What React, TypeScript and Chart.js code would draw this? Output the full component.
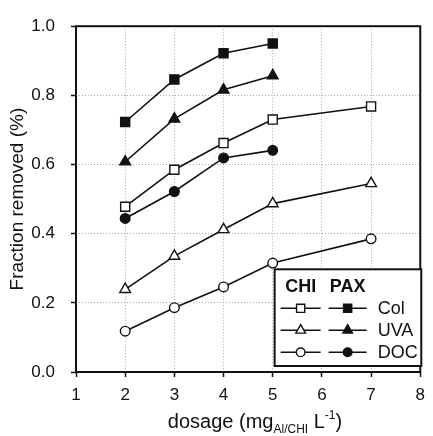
import React, { useEffect, useRef } from 'react';
import { Chart, registerables } from 'chart.js';

Chart.register(...registerables);

// ---- data ----
const dosageChi = [2, 3, 4, 5, 7];
const dosagePax = [2, 3, 4, 5];
const colChi = [0.478, 0.585, 0.662, 0.73, 0.768];
const colPax = [0.723, 0.846, 0.922, 0.95];
const uvaChi = [0.239, 0.335, 0.412, 0.487, 0.545];
const uvaPax = [0.608, 0.732, 0.816, 0.857];
const docChi = [0.118, 0.186, 0.246, 0.315, 0.385];
const docPax = [0.444, 0.522, 0.619, 0.641];
const xTicks = [1, 2, 3, 4, 5, 6, 7, 8];
const yTicks = [0, 0.2, 0.4, 0.6, 0.8, 1.0];
const legendHeaders = ['CHI', 'PAX'];
const legendRows = ['Col', 'UVA', 'DOC'];
const yTitle = 'Fraction removed (%)';

const FONT = "'Liberation Sans', Arial, sans-serif";
const INK = '#111';

type Marker = 'rect' | 'triangle' | 'circle';

function drawMarker(ctx: CanvasRenderingContext2D, style: Marker, x: number, y: number, filled: boolean, r: number) {
  ctx.save();
  ctx.beginPath();
  if (style === 'rect') {
    const s = Math.SQRT1_2 * r;
    ctx.rect(x - s, y - s, 2 * s, 2 * s);
  } else if (style === 'triangle') {
    let rad = 0;
    ctx.moveTo(x + Math.sin(rad) * r, y - Math.cos(rad) * r);
    rad += (2 * Math.PI) / 3;
    ctx.lineTo(x + Math.sin(rad) * r, y - Math.cos(rad) * r);
    rad += (2 * Math.PI) / 3;
    ctx.lineTo(x + Math.sin(rad) * r, y - Math.cos(rad) * r);
    ctx.closePath();
  } else {
    ctx.arc(x, y, r, 0, Math.PI * 2);
  }
  ctx.fillStyle = filled ? INK : '#fff';
  ctx.fill();
  ctx.lineWidth = 1.4;
  ctx.strokeStyle = INK;
  ctx.stroke();
  ctx.restore();
}

const radii: Record<Marker, number> = { rect: 6.4, triangle: 6.2, circle: 4.8 };

function mk(label: string, xs: number[], ys: number[], style: Marker, filled: boolean) {
  return {
    label,
    data: xs.map((x, i) => ({ x, y: ys[i] })),
    borderColor: INK,
    borderWidth: 1.6,
    pointStyle: style,
    pointRadius: radii[style],
    pointBorderWidth: 1.4,
    pointBorderColor: INK,
    pointBackgroundColor: filled ? INK : '#fff',
    showLine: true,
    fill: false,
    tension: 0,
  };
}

const framePlugin = {
  id: 'frame',
  beforeDatasetsDraw(chart: any) {
    const { ctx, chartArea: a } = chart;
    ctx.save();
    ctx.strokeStyle = INK;
    ctx.lineWidth = 2;
    ctx.strokeRect(a.left, a.top, a.right - a.left, a.bottom - a.top);
    ctx.restore();
  },
};

const legendPlugin = {
  id: 'customLegend',
  afterDatasetsDraw(chart: any) {
    const ctx: CanvasRenderingContext2D = chart.ctx;
    const a = chart.chartArea;
    const bx = a.left + (a.right - a.left) * 0.577;
    const by = a.top + (a.bottom - a.top) * 0.703;
    const bw = a.right + 1 - bx;
    const bh = a.bottom - 6 - by;
    ctx.save();
    ctx.fillStyle = '#fff';
    ctx.fillRect(bx, by, bw, bh);
    ctx.strokeStyle = INK;
    ctx.lineWidth = 2;
    ctx.strokeRect(bx, by, bw, bh);

    const col1 = bx + 26;
    const col2 = bx + 73;
    const textX = bx + 103;
    ctx.fillStyle = INK;
    ctx.textBaseline = 'middle';
    ctx.textAlign = 'center';
    ctx.font = `bold 18px ${FONT}`;
    ctx.fillText(legendHeaders[0], col1, by + 18);
    ctx.fillText(legendHeaders[1], col2, by + 18);

    const styles: Marker[] = ['rect', 'triangle', 'circle'];
    ctx.font = `18px ${FONT}`;
    ctx.textAlign = 'left';
    legendRows.forEach((lab, i) => {
      const y = by + 39 + i * 22;
      ctx.strokeStyle = INK;
      ctx.lineWidth = 1.5;
      ctx.beginPath();
      ctx.moveTo(col1 - 20, y);
      ctx.lineTo(col1 + 20, y);
      ctx.moveTo(col2 - 19, y);
      ctx.lineTo(col2 + 19, y);
      ctx.stroke();
      drawMarker(ctx, styles[i], col1, y, false, radii[styles[i]] * 0.9);
      drawMarker(ctx, styles[i], col2, y, true, radii[styles[i]] * 0.9);
      ctx.fillStyle = INK;
      ctx.fillText(lab, textX, y + 1);
    });
    ctx.restore();
  },
};

const xTitlePlugin = {
  id: 'xTitle',
  afterDraw(chart: any) {
    const ctx: CanvasRenderingContext2D = chart.ctx;
    const parts = [
      { t: 'dosage (mg', size: 20, dy: 0 },
      { t: 'Al/CHI', size: 12, dy: 5 },
      { t: ' L', size: 20, dy: 0 },
      { t: '-1', size: 12, dy: -9 },
      { t: ')', size: 20, dy: 0 },
    ];
    ctx.save();
    let total = 0;
    const widths = parts.map((p) => {
      ctx.font = `${p.size}px ${FONT}`;
      const w = ctx.measureText(p.t).width;
      total += w;
      return w;
    });
    const cx = 255;
    const base = 428;
    let x = cx - total / 2;
    ctx.fillStyle = INK;
    ctx.textBaseline = 'alphabetic';
    ctx.textAlign = 'left';
    parts.forEach((p, i) => {
      ctx.font = `${p.size}px ${FONT}`;
      ctx.fillText(p.t, x, base + p.dy);
      x += widths[i];
    });
    ctx.restore();
  },
};

export default function App() {
  const ref = useRef<HTMLCanvasElement | null>(null);

  useEffect(() => {
    if (!ref.current) return;
    const chart = new Chart(ref.current, {
      type: 'line',
      data: {
        datasets: [
          mk('Col CHI', dosageChi, colChi, 'rect', false),
          mk('Col PAX', dosagePax, colPax, 'rect', true),
          mk('UVA CHI', dosageChi, uvaChi, 'triangle', false),
          mk('UVA PAX', dosagePax, uvaPax, 'triangle', true),
          mk('DOC CHI', dosageChi, docChi, 'circle', false),
          mk('DOC PAX', dosagePax, docPax, 'circle', true),
        ] as any,
      },
      options: {
        animation: false,
        responsive: false,
        devicePixelRatio: 1,
        layout: { padding: { top: 16, right: 9, left: 0, bottom: 0 } },
        plugins: {
          legend: { display: false },
          tooltip: { enabled: false },
        },
        scales: {
          x: {
            type: 'linear',
            min: xTicks[0],
            max: xTicks[xTicks.length - 1],
            afterFit: (s: any) => { s.height = 64; },
            afterBuildTicks: (s: any) => { s.ticks = xTicks.map((v) => ({ value: v })); },
            ticks: {
              stepSize: 1,
              padding: 8,
              color: INK,
              font: { family: FONT, size: 17 },
              callback: (v: any) => String(v),
            },
            grid: {
              color: '#aaaaaa',
              lineWidth: 1,
              tickLength: 5,
              tickColor: INK,
              tickWidth: 1.5,
              tickBorderDash: [],
            },
            border: { display: false, dash: [1, 2] },
          },
          y: {
            type: 'linear',
            min: yTicks[0],
            max: yTicks[yTicks.length - 1],
            afterFit: (s: any) => { s.width = 76; },
            afterBuildTicks: (s: any) => { s.ticks = yTicks.map((v) => ({ value: v })); },
            ticks: {
              stepSize: 0.2,
              padding: 16,
              color: INK,
              font: { family: FONT, size: 17 },
              callback: (v: any) => Number(v).toFixed(1),
            },
            grid: {
              color: '#aaaaaa',
              lineWidth: 1,
              tickLength: 5,
              tickColor: INK,
              tickWidth: 1.5,
              tickBorderDash: [],
            },
            border: { display: false, dash: [1, 2] },
            title: {
              display: true,
              text: yTitle,
              color: INK,
              font: { family: FONT, size: 19 },
              padding: { top: 6, bottom: 0 },
            },
          },
        },
      },
      plugins: [framePlugin, legendPlugin, xTitlePlugin],
    });
    return () => chart.destroy();
  }, []);

  return (
    <div style={{ position: 'fixed', left: 0, top: 0, width: 433, height: 436, background: '#fff' }}>
      <canvas ref={ref} width={433} height={436} />
    </div>
  );
}
